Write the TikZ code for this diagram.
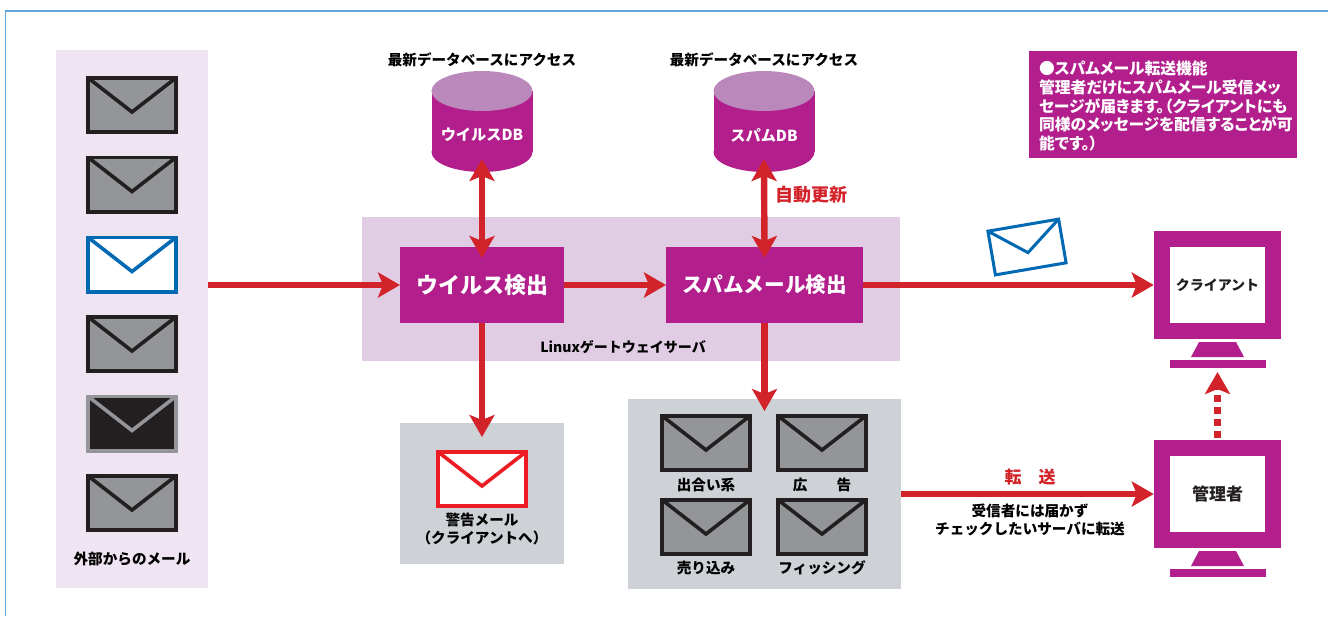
\documentclass[tikz,border=0pt]{standalone}
\usepackage{fontspec}
\setmainfont{Noto Sans CJK JP}
\newfontfamily\notefont{Noto Sans CJK JP}[RawFeature=+palt]
\usetikzlibrary{arrows.meta}

\definecolor{boxpurple}{RGB}{178,30,140}
\definecolor{dbtop}{RGB}{187,136,187}
\definecolor{serverbg}{RGB}{224,205,227}
\definecolor{inboxbg}{RGB}{239,228,241}
\definecolor{spambg}{RGB}{206,209,213}
\definecolor{mailgray}{RGB}{147,149,152}
\definecolor{maildark}{RGB}{35,31,32}
\definecolor{mailblue}{RGB}{0,105,180}
\definecolor{mailred}{RGB}{237,28,36}
\definecolor{arrowred}{RGB}{210,35,42}
\definecolor{framecol}{RGB}{95,165,220}

\tikzset{
    panel/.style = {inner sep=0, outer sep=0},
    procbox/.style = {panel, fill=boxpurple, text=white, minimum height=38pt, font=\fontsize{10.3}{12}\selectfont\bfseries},
    dbtext/.style = {text=white, inner sep=0, font=\fontsize{7.6}{9}\selectfont\bfseries},
    monitor/.style = {draw=boxpurple, line width=8pt, fill=white, minimum width=55.75pt, minimum height=46pt, inner sep=0, text=maildark, font=\fontsize{7}{9}\selectfont\bfseries},
    caption/.style = {inner sep=0, align=center, text=black, font=\fontsize{7.3}{9}\selectfont\bfseries},
    redcaption/.style = {inner sep=0, text=arrowred, font=\fontsize{9}{11}\selectfont\bfseries},
    redarrow/.style = {line width=3.2pt, draw=arrowred, ->},
    mailline/.style = {line width=1.8pt},
    pics/envelope/.style 2 args = {code = {
        \draw[fill=#1, draw=#2] (-44,-27.2) rectangle (44,27.2);
        \draw[draw=#2] (-44,-27.2) -- (0,7) -- (44,-27.2);
    }}
}

\begin{document}
\begin{tikzpicture}[x=0.5pt, y=-0.5pt, >={Stealth[length=11pt, width=12.5pt, inset=2.5pt]}]
    \useasboundingbox (0,0) rectangle (1328,616);
    \draw[framecol, line width=0.8pt] (5.5,616) -- (5.5,11) -- (1328,11);

    % panels
    \node[panel, fill=inboxbg, minimum width=76pt, minimum height=269pt] (inbox) at (132,319) {};
    \node[panel, fill=serverbg, minimum width=269pt, minimum height=72pt] (server) at (631,289) {};
    \node[panel, fill=spambg, minimum width=82pt, minimum height=70.5pt] (warnpanel) at (482,493.5) {};
    \node[panel, fill=spambg, minimum width=136.5pt, minimum height=95pt] (spampanel) at (764.5,494) {};
    \node[panel, fill=boxpurple, minimum width=134pt, minimum height=53.5pt] (note) at (1163,104.5) {};
    \node[panel, text width=126pt, text=white, align=left, font=\notefont\fontsize{7.9}{9.3}\selectfont\bfseries] (notetext) at (1165,106)
        {●スパムメール転送機能\\管理者だけにスパムメール受信メッ\\セージが届きます。（クライアントにも\\同様のメッセージを配信することが可\\能です。）};

    % process boxes and databases
    \node[procbox, minimum width=82pt, font=\fontsize{11}{13}\selectfont\bfseries] (virusbox) at (482,285) {ウイルス検出};
    \node[procbox, minimum width=98.5pt] (spambox) at (764.5,285) {スパムメール検出};
    \foreach \x in {482,764} {
        \fill[boxpurple] (\x,152) ellipse [x radius=25.25pt, y radius=10pt];
        \fill[boxpurple] (\x-50.5,91) rectangle (\x+50.5,152);
        \fill[dbtop] (\x,91) ellipse [x radius=25.25pt, y radius=10pt];
    }
    \node[panel, minimum size=50.5pt] (virusdb) at (482,121.5) {};
    \node[panel, minimum size=50.5pt] (spamdb) at (764,121.5) {};
    \node[dbtext] (virustext) at (482,135) {ウイルスDB};
    \node[dbtext] (spamtext) at (764,135) {スパムDB};

    % monitors
    \node[monitor] (client) at (1217.5,285) {クライアント};
    \node[monitor, font=\fontsize{8.5}{10}\selectfont\bfseries] (admin) at (1217.5,494) {管理者};
    \foreach \y in {0,209} {
        \fill[boxpurple] (1199,342+\y) -- (1236,342+\y) -- (1244,357+\y) -- (1191,357+\y) -- cycle;
        \fill[boxpurple] (1170,360+\y) rectangle (1266,368+\y);
    }

    % envelopes
    \foreach \y in {105,184.5,344,503}
        \pic[mailline] at (132,\y) {envelope={mailgray}{maildark}};
    \pic[mailline] at (132,264.5) {envelope={white}{mailblue}};
    \pic[mailline] at (132,423.5) {envelope={maildark}{mailgray}};
    \pic[mailline] at (482,479) {envelope={white}{mailred}};
    \foreach \x in {706,822}
        \foreach \y in {443,527}
            \pic[mailline] at (\x,\y) {envelope={mailgray}{maildark}};
    \pic[line width=1.5pt, rotate=9.7, scale=0.815] at (1027,247) {envelope={white}{mailblue}};

    % arrows
    \draw[redarrow] (inbox.east |- virusbox.west) -- (virusbox.west);
    \draw[redarrow] (virusbox.east) -- (spambox.west);
    \draw[redarrow] (spambox.east) -- (client.west);
    \draw[redarrow, shorten >=-7pt] (virusbox.south) -- (warnpanel.north);
    \draw[redarrow, shorten >=-6pt] (spambox.south) -- (spampanel.north);
    \draw[redarrow, <->, shorten <=-6.5pt, shorten >=-5.5pt] (virusdb.south) -- (virusbox.north);
    \draw[redarrow, <->, shorten <=-6.5pt, shorten >=-5.5pt] (spamdb.south) -- (spambox.north);
    \draw[redarrow] (spampanel.east) -- (admin.west);
    \draw[redarrow, dash pattern=on 3.5pt off 2.5pt, shorten <=1pt, shorten >=1pt] (admin.north) -- (client.south |- 0,370);

    % captions
    \node[caption] (dbcapa) at (482,60) {最新データベースにアクセス};
    \node[caption] (dbcapb) at (764,60) {最新データベースにアクセス};
    \node[redcaption] (autoupdate) at (811,195) {自動更新};
    \node[caption, font=\fontsize{7}{9}\selectfont\bfseries] (servername) at (623,347) {Linuxゲートウェイサーバ};
    \node[caption] (inboxname) at (132,559) {外部からのメール};
    \node[caption] (warnname) at (482,529) {警告メール\\（クライアントへ）};
    \node[caption] (deai) at (706,485) {出合い系};
    \node[caption] (koukoku) at (822,485) {広　　告};
    \node[caption] (urikomi) at (706,568) {売り込み};
    \node[caption] (phishing) at (822,568) {フィッシング};
    \node[redcaption, font=\fontsize{8.5}{10}\selectfont\bfseries] (tensou) at (1030,477) {転　送};
    \node[caption] (tensounote) at (1030,520) {受信者には届かず\\チェックしたいサーバに転送};
\end{tikzpicture}
\end{document}
